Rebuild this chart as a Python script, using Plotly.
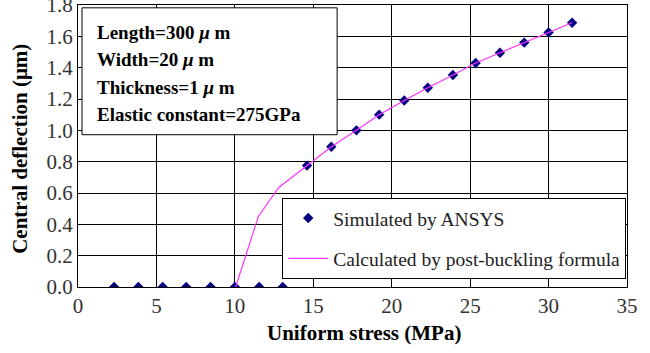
import plotly.graph_objects as go

# Simulated by ANSYS
sim_x = [2.3, 3.85, 5.4, 6.9, 8.45, 10.0, 11.55, 13.05, 14.6, 16.15, 17.75, 19.2, 20.8,
         22.3, 23.9, 25.35, 26.9, 28.45, 30.0, 31.5]
sim_y = [0.0, 0.0, 0.0, 0.0, 0.0, 0.0, 0.0, 0.0, 0.775, 0.895, 1.0, 1.1, 1.19,
         1.272, 1.353, 1.43, 1.495, 1.56, 1.625, 1.687]

# Calculated by post-buckling formula
calc_x = [10.05, 11.5, 12.8, 14.6, 16.15, 17.75, 19.2, 20.8, 22.3, 23.9, 25.35, 26.9, 28.45, 30.0, 31.5]
calc_y = [0.0, 0.45, 0.635, 0.775, 0.895, 1.0, 1.1, 1.19, 1.272, 1.353, 1.43, 1.495, 1.56, 1.625, 1.687]

x_ticks = [0, 5, 10, 15, 20, 25, 30, 35]
y_ticks = [0.0, 0.2, 0.4, 0.6, 0.8, 1.0, 1.2, 1.4, 1.6, 1.8]

info_lines = ["Length=300 <i>μ</i> m", "Width=20 <i>μ</i> m", "Thickness=1 <i>μ</i> m",
              "Elastic constant=275GPa"]

x_title = "Uniform stress (MPa)"
y_title = "Central deflection (μm)"

serif = "Liberation Serif, Times New Roman, serif"

fig = go.Figure()
fig.add_trace(go.Scatter(
    x=sim_x, y=sim_y, mode="markers", name="Simulated by ANSYS", legendgroup="a",
    marker=dict(symbol="diamond", size=8, color="#000080"),
))
fig.add_trace(go.Scatter(
    x=calc_x, y=calc_y, mode="lines", name="Calculated by post-buckling formula", legendgroup="b",
    line=dict(color="#ff33ff", width=1.2),
))

# info box
fig.add_shape(type="rect", xref="paper", yref="paper", x0=0.0073, x1=0.472, y0=0.54, y1=0.99,
              line=dict(color="black", width=1), fillcolor="white", layer="above")
line_tops = [0.904, 0.805, 0.709, 0.613]
for txt, yy in zip(info_lines, line_tops):
    fig.add_annotation(text="<b>" + txt + "</b>", xref="paper", yref="paper",
                       x=0.031, y=yy, xanchor="left", yanchor="middle", showarrow=False,
                       font=dict(family=serif, size=19, color="black"))

# axis titles
fig.add_annotation(text="<b>" + x_title + "</b>", xref="paper", yref="paper", x=0.521, y=0,
                   xanchor="center", yanchor="middle", yshift=-46, showarrow=False,
                   font=dict(family=serif, size=21, color="black"))
fig.add_annotation(text="<b>" + y_title + "</b>", xref="paper", yref="paper", x=0, y=0.49,
                   xanchor="center", yanchor="middle", xshift=-58, textangle=-90, showarrow=False,
                   font=dict(family=serif, size=21, color="black"))

fig.update_layout(
    width=650, height=353,
    margin=dict(l=78, r=23, t=5, b=66),
    paper_bgcolor="white", plot_bgcolor="white",
    showlegend=True,
    legend=dict(x=0.372, y=0.316, xanchor="left", yanchor="top",
                bgcolor="white", bordercolor="black", borderwidth=1,
                font=dict(family=serif, size=19.5, color="#222"),
                itemwidth=40, tracegroupgap=12, traceorder="grouped"),
    xaxis=dict(range=[0, 35], tickvals=x_ticks, showgrid=True, gridcolor="black", gridwidth=1,
               showline=True, linecolor="black", mirror=True, zeroline=False, automargin=False,
               ticklabeloverflow="allow",
               tickfont=dict(family=serif, size=21, color="#333"), ticks=""),
    yaxis=dict(range=[0, 1.8], tickvals=y_ticks, tickformat=".1f", showgrid=True, gridcolor="black",
               gridwidth=1, showline=True, linecolor="black", mirror=True, zeroline=False,
               automargin=False, ticklabeloverflow="allow",
               tickfont=dict(family=serif, size=21, color="#333"), ticks=""),
)

fig.write_html("out.html", config={"displayModeBar": False},
               post_script="document.body.style.margin='0';")
